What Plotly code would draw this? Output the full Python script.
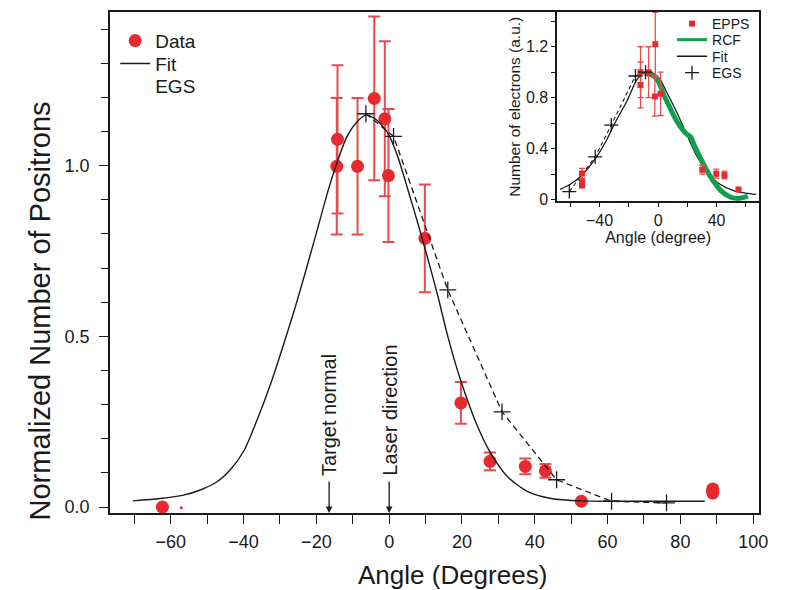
import plotly.graph_objects as go

# ---------------- main panel data ----------------
data_x = [-62.3, -14.2, -14.4, -8.7, -4.1, -1.2, -0.2, 9.8, 19.7, 27.7, 37.4, 42.9, 52.8, 88.9, 88.9, 88.9]
data_y = [0.0, 1.077, 0.998, 0.998, 1.197, 1.137, 0.971, 0.787, 0.305, 0.134, 0.119, 0.106, 0.017, 0.041, 0.047, 0.053]
data_err = [0, 0.217, 0.200, 0.200, 0.240, 0.227, 0.195, 0.158, 0.061, 0.026, 0.023, 0.020, 0, 0, 0, 0]

speck_x = [-57.1]
speck_y = [-0.002]

fit_x = [-70.4, -62.9, -56.5, -51.9, -47.3, -43.6, -39.9, -36.3, -32.6, -28.9, -25.2, -20.7, -16.1,
         -11.5, -8.7, -6.4, -3.7, -0.4, 2.3, 5.1, 7.8, 10.6, 13.3, 16.1, 19.7, 24.4, 28.0, 32.6,
         38.1, 44.5, 52.8, 67.4, 86.7]
fit_y = [0.018, 0.025, 0.035, 0.050, 0.074, 0.110, 0.165, 0.255, 0.360, 0.480, 0.607, 0.776, 0.951,
         1.087, 1.130, 1.148, 1.136, 1.096, 1.028, 0.931, 0.834, 0.728, 0.621, 0.500, 0.369, 0.233,
         0.156, 0.088, 0.045, 0.025, 0.018, 0.017, 0.017]

egs_x = [-6.4, 1.2, 16.1, 31.0, 46.0, 61.1, 76.2]
egs_y = [1.152, 1.086, 0.636, 0.279, 0.080, 0.017, 0.012]

target_normal_x = -16.5
laser_dir_x = 0.0

x_title = "Angle (Degrees)"
y_title = "Normalized Number of Positrons"

# ---------------- inset data ----------------
epps_x = [-52.0, -52.0, -52.0, -12.0, -12.0, -6.5, -1.9, -2.2, 1.7, 30.2, 39.8, 45.4, 55.0]
epps_y = [0.205, 0.135, 0.112, 1.00, 0.90, 1.00, 1.22, 0.81, 0.83, 0.234, 0.203, 0.193, 0.078]
epps_err = [0.04, 0.02, 0.02, 0.20, 0.18, 0.20, 0.25, 0.155, 0.17, 0.035, 0.035, 0.03, 0.0]

rcf_x = [-9.0, -5.0, -1.0, 2.0, 4.0, 8.6, 12.0, 15.4, 18.9, 22.3, 25.0, 29.2, 36.0, 42.9, 49.7, 54.5, 58.0, 61.4]
rcf_y = [0.99, 0.98, 0.95, 0.88, 0.82, 0.71, 0.63, 0.57, 0.52, 0.49, 0.42, 0.32, 0.175, 0.07, 0.018, 0.008, 0.015, 0.025]

ifit_x = [-67, -60, -53, -43, -36, -30, -21, -14, -8, -3, 1, 6, 13, 20, 27, 34, 41, 52, 60, 67]
ifit_y = [0.08, 0.12, 0.18, 0.32, 0.45, 0.59, 0.78, 0.95, 1.0, 0.99, 0.95, 0.84, 0.68, 0.50, 0.33,
          0.21, 0.13, 0.068, 0.05, 0.04]

iegs_x = [-60.7, -43.0, -32.0, -15.5, -8.6]
iegs_y = [0.062, 0.335, 0.585, 0.970, 1.000]

RED = "#E62A2E"
RED_BAR = "#EA4A4E"
GREEN = "#12A04E"
INK = "#1a1a1a"
FONT = "Liberation Sans, Arial, Helvetica, sans-serif"

fig = go.Figure()

# main: data
fig.add_trace(go.Scatter(x=data_x, y=data_y, mode="markers", name="Data", legend="legend",
                         marker=dict(color=RED, size=13, line=dict(width=0)),
                         error_y=dict(type="data", array=data_err, color=RED_BAR, thickness=2, width=6)))
fig.add_trace(go.Scatter(x=speck_x, y=speck_y, mode="markers", showlegend=False,
                         marker=dict(color=RED, size=3)))
# main: fit
fig.add_trace(go.Scatter(x=fit_x, y=fit_y, mode="lines", name="Fit", legend="legend2",
                         line=dict(color=INK, width=1.4, shape="spline", smoothing=0.7)))
# main: EGS dashed with crosses
fig.add_trace(go.Scatter(x=egs_x, y=egs_y, mode="lines+markers", showlegend=False,
                         line=dict(color=INK, width=1.3, dash="6px,4px"),
                         marker=dict(symbol="cross-thin", size=12, line=dict(color=INK, width=1.3))))
# legend-only entry "EGS" (no symbol in the original legend)
fig.add_trace(go.Scatter(x=[None], y=[None], mode="lines", name="EGS", legend="legend3",
                         line=dict(color="rgba(0,0,0,0)", width=0)))

# inset traces
fig.add_trace(go.Scatter(x=ifit_x, y=ifit_y, mode="lines", showlegend=False, xaxis="x2", yaxis="y2",
                         line=dict(color=INK, width=1.3, shape="spline", smoothing=0.8)))
fig.add_trace(go.Scatter(x=iegs_x, y=iegs_y, mode="lines", showlegend=False, xaxis="x2", yaxis="y2",
                         line=dict(color=INK, width=1.1, dash="4px,3px")))
fig.add_trace(go.Scatter(x=rcf_x, y=rcf_y, mode="lines", showlegend=False, xaxis="x2", yaxis="y2",
                         line=dict(color=GREEN, width=5, shape="spline", smoothing=0.6)))
fig.add_trace(go.Scatter(x=epps_x, y=epps_y, mode="markers", name="EPPS", xaxis="x2", yaxis="y2",
                         legend="legend4",
                         marker=dict(symbol="square", color=RED, size=6),
                         error_y=dict(type="data", array=epps_err, color=RED_BAR, thickness=1.3, width=3)))
fig.add_trace(go.Scatter(x=[None], y=[None], mode="lines", name="RCF", xaxis="x2", yaxis="y2",
                         legend="legend5", line=dict(color=GREEN, width=3)))
fig.add_trace(go.Scatter(x=[None], y=[None], mode="lines", name="Fit", xaxis="x2", yaxis="y2",
                         legend="legend6", line=dict(color=INK, width=1.5)))
fig.add_trace(go.Scatter(x=iegs_x, y=iegs_y, mode="markers", name="EGS", xaxis="x2", yaxis="y2",
                         legend="legend7",
                         marker=dict(symbol="cross-thin", size=10, line=dict(color=INK, width=1.3))))

axis_common = dict(showline=True, mirror=True, linecolor=INK, linewidth=1.5, showgrid=False,
                   zeroline=False, ticks="outside", tickcolor=INK, automargin=False)


def leg(x, y, size):
    return dict(x=x, y=y, xanchor="left", yanchor="middle", bgcolor="rgba(0,0,0,0)",
                font=dict(size=size), tracegroupgap=0, itemwidth=30)


# The page body adds an 8px offset, so the figure is 785x582 with margins adjusted.
fig.update_layout(
    width=785, height=582, autosize=False,
    margin=dict(l=102, r=34, t=0, b=77),
    paper_bgcolor="white", plot_bgcolor="white",
    font=dict(family=FONT, color=INK),
    xaxis=dict(range=[-76.7, 101.6], dtick=20, tick0=0, ticklen=9, tickwidth=1.3,
               tickfont=dict(size=18), ticklabelstandoff=3,
               minor=dict(dtick=10, tick0=0, ticks="outside", ticklen=9, tickwidth=1.3, tickcolor=INK),
               **axis_common),
    yaxis=dict(range=[-0.0174, 1.450], dtick=0.5, tick0=0, tickformat=".1f", ticklen=9, tickwidth=1.3,
               tickfont=dict(size=18), ticklabelstandoff=6,
               minor=dict(dtick=0.1, tick0=0, ticks="outside", ticklen=7, tickwidth=1.3, tickcolor=INK),
               **axis_common),
    xaxis2=dict(domain=[0.689, 1.0], anchor="y2", range=[-69, 69], dtick=40, tick0=0, ticklen=4,
                tickwidth=1.2, tickfont=dict(size=16),
                minor=dict(dtick=20, tick0=0, ticks="outside", ticklen=4, tickwidth=1.2, tickcolor=INK),
                title=dict(text="Angle (degree)", font=dict(size=16), standoff=2),
                **axis_common),
    yaxis2=dict(domain=[0.6218, 1.0], anchor="x2", range=[-0.0156, 1.473], dtick=0.4, tick0=0,
                tickformat="~g", ticklen=4, tickwidth=1.2, tickfont=dict(size=16),
                minor=dict(dtick=0.2, tick0=0, ticks="outside", ticklen=4, tickwidth=1.2, tickcolor=INK),
                title=dict(text="Number of electrons (a.u.)", font=dict(size=15.5), standoff=2),
                **axis_common),
    legend=leg(0.008, 0.9426, 19),
    legend2=leg(0.008, 0.897, 19),
    legend3=leg(0.008, 0.8535, 19),
    legend4=leg(0.866, 0.977, 14),
    legend5=leg(0.866, 0.944, 14),
    legend6=leg(0.866, 0.911, 14),
    legend7=leg(0.866, 0.878, 14),
    showlegend=True,
)

# main axis titles as positioned text
fig.add_annotation(x=0.527, y=-0.123, xref="paper", yref="paper", text=x_title, showarrow=False,
                   xanchor="center", yanchor="middle", font=dict(size=26, color=INK))
fig.add_annotation(x=-0.108, y=0.404, xref="paper", yref="paper", text=y_title, showarrow=False,
                   textangle=-90, xanchor="center", yanchor="middle", font=dict(size=29, color=INK))

# annotations: arrows + rotated labels
for xv, label in [(target_normal_x, "Target normal"), (laser_dir_x, "Laser direction")]:
    fig.add_annotation(x=xv, y=-0.0174, xref="x", yref="y", text="", showarrow=True,
                       ax=0, ay=-33, arrowhead=2, arrowsize=1, arrowwidth=1.3, arrowcolor=INK)
    fig.add_annotation(x=xv, y=-0.0174, xref="x", yref="y", text=label, showarrow=False,
                       textangle=-90, xanchor="center", yanchor="bottom", yshift=35,
                       font=dict(size=20, color=INK))

fig.write_html("out.html")
